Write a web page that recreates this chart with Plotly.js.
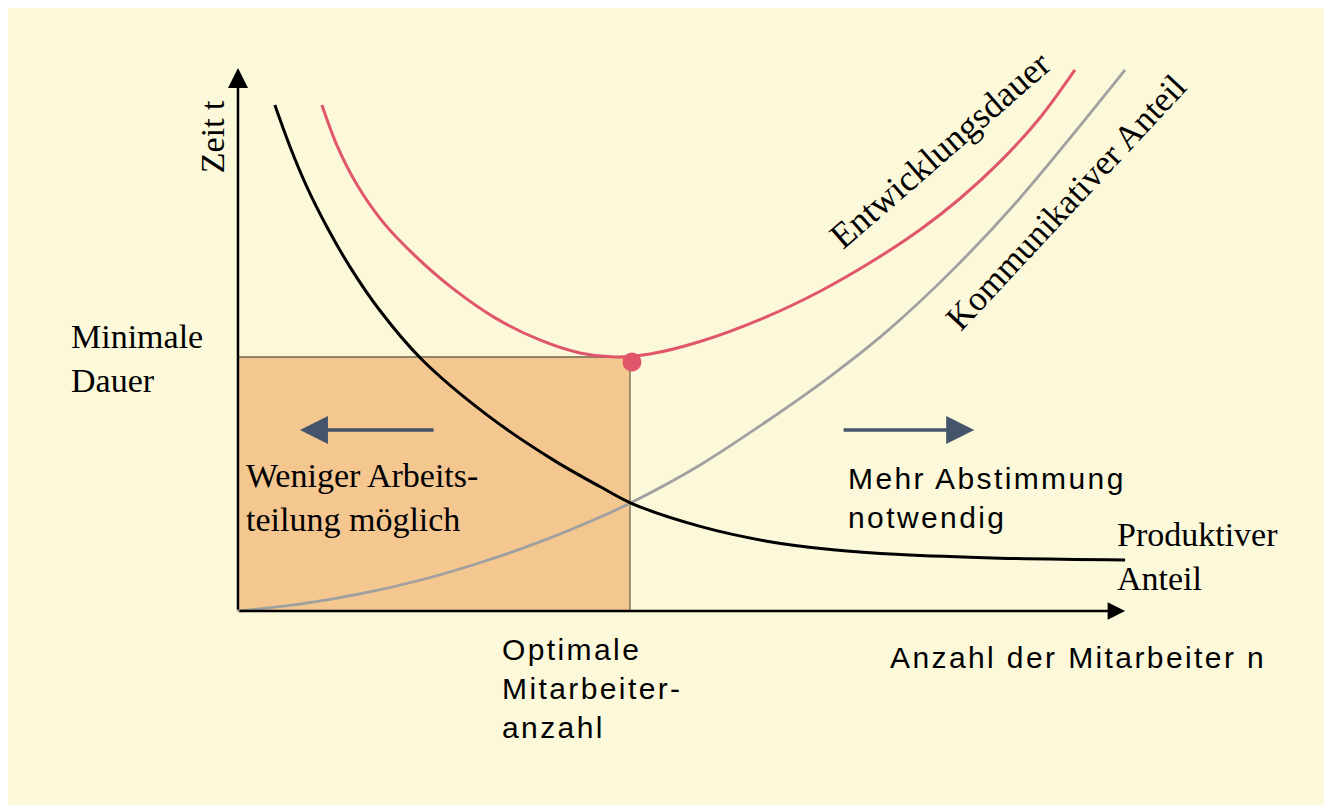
<!DOCTYPE html>
<html>
<head>
<meta charset="utf-8">
<script src="https://cdn.plot.ly/plotly-3.0.1.min.js"></script>
<style>
  html, body { margin: 0; padding: 0; background: #ffffff; }
  #chart { width: 1324px; height: 805px; }
  /* the sans labels in the original are spaced out a bit */
  text.annotation-text[style*="Liberation Sans"] { letter-spacing: 2.4px; }
</style>
</head>
<body>
<div id="chart"></div>
<script>
// n = Anzahl der Mitarbeiter, t = Zeit
var prodN = [0.94, 1.33, 1.76, 2.27, 2.86, 3.62, 4.69, 6.35, 8.04, 9.23, 10.05, 11.79, 13.49, 15.18, 16.89, 19.44, 22.63];
var prodT = [19.92, 18.27, 16.69, 15.12, 13.54, 11.83, 9.90, 7.72, 5.95, 4.90, 4.23, 3.33, 2.75, 2.41, 2.22, 2.08, 2.01];

var commN = [0, 1.58, 3.11, 4.64, 6.17, 7.70, 9.23, 10.05, 11.79, 13.49, 15.10, 16.56, 18.24, 19.95, 22.63];
var commT = [0, 0.27, 0.67, 1.21, 1.90, 2.72, 3.69, 4.28, 5.75, 7.47, 9.23, 11.02, 13.44, 16.26, 21.30];

var durN = [2.14, 2.53, 3.04, 3.70, 4.52, 5.46, 6.56, 7.70, 8.72, 9.62, 10.51, 11.79, 13.49, 14.85, 16.12, 17.40, 18.42, 19.44, 20.46, 21.35];
var durT = [19.92, 18.31, 16.77, 15.31, 13.98, 12.72, 11.54, 10.67, 10.16, 10.00, 10.12, 10.61, 11.59, 12.59, 13.71, 15.01, 16.24, 17.69, 19.42, 21.30];

var optN = 10.0;     // Optimale Mitarbeiteranzahl
var minT = 10.0;     // Minimale Dauer
var dotN = [10.05];
var dotT = [9.80];

var axisEndN = 22.63;
var axisEndT = 21.38;

var serif = '"Liberation Serif", "Times New Roman", serif';
var sans = '"Liberation Sans", Arial, sans-serif';

var red = '#e0566a';
var grey = '#a0a0a0';
var arrowBlue = '#44546a';

var traces = [
    {x: commN, y: commT, mode: 'lines', line: {color: grey, width: 2.8, shape: 'spline', smoothing: 0.9}, hoverinfo: 'skip'},
    {x: prodN, y: prodT, mode: 'lines', line: {color: '#000000', width: 3, shape: 'spline', smoothing: 0.9}, hoverinfo: 'skip'},
    {x: durN, y: durT, mode: 'lines', line: {color: red, width: 3, shape: 'spline', smoothing: 0.9}, hoverinfo: 'skip'},
    {x: dotN, y: dotT, mode: 'markers', marker: {color: red, size: 19}, hoverinfo: 'skip'}
];

function arrow(x0, y0, x1, y1, color, width, size) {
    return {
        x: x1, y: y1, ax: x0, ay: y0,
        xref: 'x', yref: 'y', axref: 'x', ayref: 'y',
        text: '', showarrow: true,
        arrowhead: 2, arrowsize: size, arrowwidth: width, arrowcolor: color
    };
}

function label(text, x, y, font, size, opts) {
    var a = {
        text: text, x: x, y: y, xref: 'x', yref: 'y',
        showarrow: false, xanchor: 'left', yanchor: 'middle', align: 'left',
        font: {family: font, size: size, color: '#000000'}
    };
    for (var k in (opts || {})) a[k] = opts[k];
    return a;
}

var annotations = [
    arrow(0, 0, 0, axisEndT, '#000000', 2.5, 1.6),
    arrow(0, 0, axisEndN, 0, '#000000', 2.5, 1.4),
    arrow(5.03, 7.13, 1.58, 7.13, arrowBlue, 3.5, 1.6),
    arrow(15.41, 7.13, 18.78, 7.13, arrowBlue, 3.5, 1.6),

    label('Minimale<br>Dauer', -4.31, 9.96, serif, 34),
    label('Weniger Arbeits-<br>teilung möglich', 0.15, 4.45, serif, 34),
    label('Produktiver<br>Anteil', 22.37, 2.13, serif, 34),
    label('Mehr Abstimmung<br>notwendig', 15.50, 4.45, sans, 30),
    label('Optimale<br>Mitarbeiter-<br>anzahl', 6.68, -3.07, sans, 30),
    label('Anzahl der Mitarbeiter n', 16.57, -1.85, sans, 30),
    label('Zeit t', -0.66, 18.66, serif, 34, {xanchor: 'center', textangle: -90}),
    label('Entwicklungsdauer', 17.91, 18.15, serif, 36, {xanchor: 'center', textangle: -41}),
    label('Kommunikativer Anteil', 21.12, 16.10, serif, 35, {xanchor: 'center', textangle: -47})
];

var shapes = [
    {type: 'rect', xref: 'x', yref: 'y', x0: 0, x1: optN, y0: 0, y1: minT,
     fillcolor: '#f4c690', line: {color: '#6e6650', width: 1.3}, layer: 'below'}
];

var hidden = {showgrid: false, zeroline: false, showticklabels: false, ticks: '', showline: false, fixedrange: true};

var layout = {
    width: 1324, height: 805,
    margin: {l: 8, r: 0, t: 8, b: 0},
    paper_bgcolor: '#ffffff',
    plot_bgcolor: '#fcf8da',
    showlegend: false,
    xaxis: Object.assign({range: [-5.867, 27.704]}, hidden),
    yaxis: Object.assign({range: [-7.638, 23.740]}, hidden),
    shapes: shapes,
    annotations: annotations
};

Plotly.newPlot('chart', traces, layout, {staticPlot: true, displayModeBar: false});
</script>
</body>
</html>
